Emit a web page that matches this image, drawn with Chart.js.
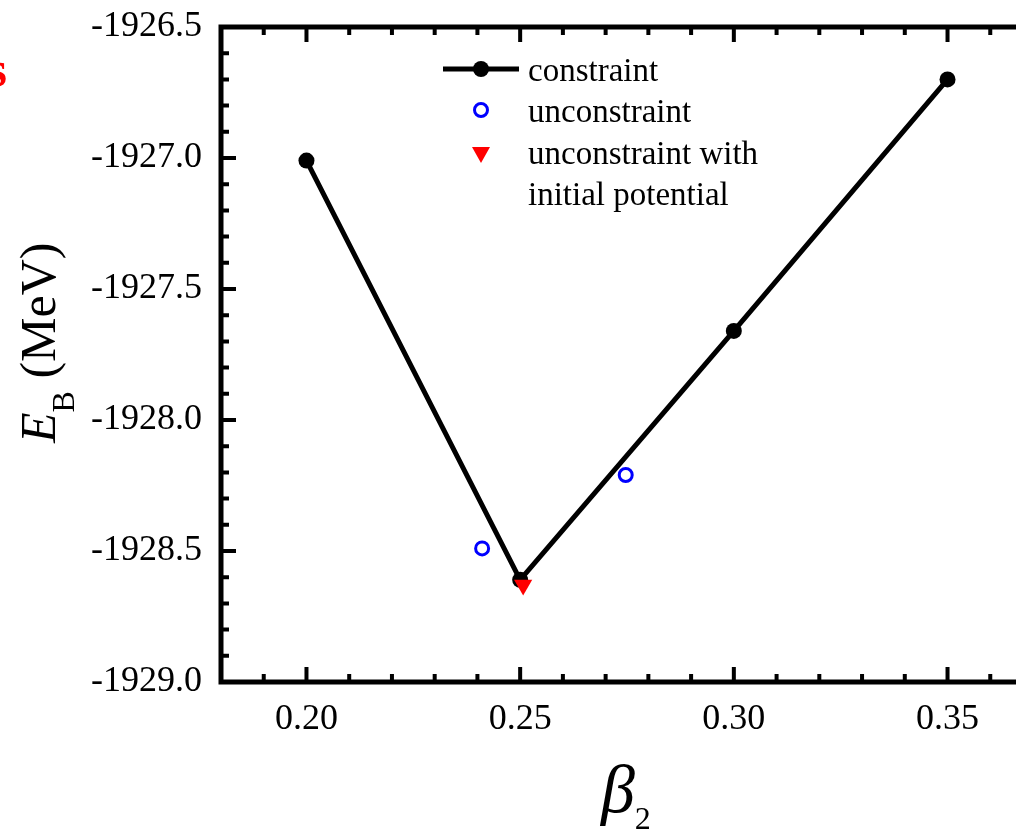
<!DOCTYPE html>
<html>
<head>
<meta charset="utf-8">
<script src="https://cdn.jsdelivr.net/npm/chart.js@4/dist/chart.umd.min.js"></script>
<style>
  html, body { margin: 0; padding: 0; overflow: hidden; background: #fff; width: 1016px; height: 829px; }
  #wrap { position: absolute; left: 0; top: 0; width: 1060px; height: 829px; }
</style>
</head>
<body>
<div id="wrap"><canvas id="c" width="1060" height="829"></canvas></div>
<script>
// ---- data ----
const betaConstraint = [0.20, 0.25, 0.30, 0.35];
const ebConstraint = [-1927.01, -1928.61, -1927.66, -1926.70];
const betaUnconstraint = [0.2411, 0.2747];
const ebUnconstraint = [-1928.49, -1928.21];
const betaInitial = [0.2507];
const ebInitial = [-1928.63];
const xMajorTicks = [0.20, 0.25, 0.30, 0.35];
const yMajorTicks = [-1926.5, -1927.0, -1927.5, -1928.0, -1928.5, -1929.0];
const xRange = [0.18, 0.37];
const yRange = [-1929.0, -1926.5];
const legendLabels = ['constraint', 'unconstraint', 'unconstraint with', 'initial potential'];

const SERIF = "'Liberation Serif', 'Times New Roman', serif";

function pts(xs, ys) { return xs.map((x, i) => ({ x: x, y: ys[i] })); }

const framePlugin = {
  id: 'frame',
  afterDraw(chart) {
    const ctx = chart.ctx;
    const a = chart.chartArea;
    const xs = chart.scales.x, ys = chart.scales.y;
    ctx.save();
    // inward ticks
    ctx.strokeStyle = '#000';
    ctx.lineWidth = 4;
    ctx.lineCap = 'butt';
    const nx = Math.round((xRange[1] - xRange[0]) / 0.01);
    for (let i = 1; i < nx; i++) {
      const v = xRange[0] + i * 0.01;
      const major = xMajorTicks.some(t => Math.abs(t - v) < 1e-6);
      const len = major ? 15 : 8;
      const px = xs.getPixelForValue(v);
      ctx.beginPath();
      ctx.moveTo(px, a.bottom); ctx.lineTo(px, a.bottom - len);
      ctx.moveTo(px, a.top); ctx.lineTo(px, a.top + len);
      ctx.stroke();
    }
    const ny = Math.round((yRange[1] - yRange[0]) / 0.1);
    for (let i = 1; i < ny; i++) {
      const v = yRange[0] + i * 0.1;
      const major = yMajorTicks.some(t => Math.abs(t - v) < 1e-6);
      const len = major ? 15 : 8;
      const py = ys.getPixelForValue(v);
      ctx.beginPath();
      ctx.moveTo(a.left, py); ctx.lineTo(a.left + len, py);
      ctx.moveTo(a.right, py); ctx.lineTo(a.right - len, py);
      ctx.stroke();
    }
    // frame
    ctx.lineWidth = 5;
    ctx.strokeRect(a.left, a.top, a.right - a.left, a.bottom - a.top);

    // legend
    ctx.lineWidth = 5;
    ctx.beginPath(); ctx.moveTo(443, 69); ctx.lineTo(519, 69); ctx.stroke();
    ctx.fillStyle = '#000';
    ctx.beginPath(); ctx.arc(481, 69, 8, 0, Math.PI * 2); ctx.fill();
    ctx.strokeStyle = '#0000ff'; ctx.lineWidth = 3;
    ctx.beginPath(); ctx.arc(481, 110, 6.5, 0, Math.PI * 2); ctx.stroke();
    ctx.fillStyle = '#ff0000';
    ctx.beginPath(); ctx.moveTo(472, 147); ctx.lineTo(490, 147); ctx.lineTo(481, 163); ctx.closePath(); ctx.fill();
    ctx.fillStyle = '#000';
    ctx.font = '33px ' + SERIF;
    ctx.textBaseline = 'alphabetic';
    ctx.textAlign = 'left';
    ctx.fillText(legendLabels[0], 528, 81);
    ctx.fillText(legendLabels[1], 528, 122);
    ctx.fillText(legendLabels[2], 528, 164);
    ctx.fillText(legendLabels[3], 528, 205);

    // x title: beta_2
    ctx.font = 'italic 68px ' + SERIF;
    ctx.fillText('\u03B2', 601, 812);
    const bw = ctx.measureText('\u03B2').width;
    ctx.font = '32px ' + SERIF;
    ctx.fillText('2', 601 + bw, 829);

    // y title: E_B (MeV), rotated
    ctx.save();
    ctx.translate(55, 443);
    ctx.rotate(-Math.PI / 2);
    ctx.font = 'italic 50px ' + SERIF;
    ctx.fillText('E', 0, 0);
    let w = ctx.measureText('E').width;
    ctx.font = '32px ' + SERIF;
    ctx.fillText('B', w, 19);
    w += ctx.measureText('B').width;
    ctx.font = '50px ' + SERIF;
    ctx.fillText(' (MeV)', w, 0);
    ctx.restore();

    // cropped red text at left edge
    ctx.fillStyle = '#ff0000';
    ctx.font = 'bold 50px ' + SERIF;
    ctx.fillText('s', -12.5, 86);
    ctx.restore();
  }
};

new Chart(document.getElementById('c'), {
  type: 'scatter',
  data: {
    datasets: [
      {
        label: 'constraint',
        data: pts(betaConstraint, ebConstraint),
        showLine: true,
        borderColor: '#000',
        backgroundColor: '#000',
        borderWidth: 5,
        pointRadius: 8,
        pointBorderWidth: 0,
        pointBackgroundColor: '#000',
        order: 3
      },
      {
        label: 'unconstraint',
        data: pts(betaUnconstraint, ebUnconstraint),
        showLine: false,
        pointStyle: 'circle',
        pointRadius: 6.5,
        pointBorderWidth: 3,
        pointBorderColor: '#0000ff',
        pointBackgroundColor: 'rgba(0,0,0,0)',
        order: 2
      },
      {
        label: 'unconstraint with initial potential',
        data: pts(betaInitial, ebInitial),
        showLine: false,
        pointStyle: 'triangle',
        rotation: 180,
        pointRotation: 180,
        pointRadius: 10.5,
        pointBorderWidth: 0,
        pointBackgroundColor: '#ff0000',
        pointBorderColor: '#ff0000',
        order: 1
      }
    ]
  },
  options: {
    responsive: false,
    animation: false,
    events: [],
    layout: { padding: { left: 0, top: 27, right: 27, bottom: 0 } },
    plugins: { legend: { display: false }, tooltip: { enabled: false } },
    scales: {
      x: {
        type: 'linear',
        min: xRange[0],
        max: xRange[1],
        grid: { display: false, drawTicks: false },
        border: { display: false },
        afterBuildTicks(scale) { scale.ticks = xMajorTicks.map(v => ({ value: v })); },
        afterFit(scale) {
          scale.height = 147;
          scale.paddingLeft = 0; scale.paddingRight = 0;
          scale.paddingTop = 0; scale.paddingBottom = 0;
        },
        ticks: {
          color: '#000',
          padding: 16,
          maxRotation: 0,
          autoSkip: false,
          font: { family: SERIF, size: 36 },
          callback: v => Number(v).toFixed(2)
        }
      },
      y: {
        type: 'linear',
        min: yRange[0],
        max: yRange[1],
        grid: { display: false, drawTicks: false },
        border: { display: false },
        afterBuildTicks(scale) { scale.ticks = yMajorTicks.map(v => ({ value: v })); },
        afterFit(scale) {
          scale.width = 221;
          scale.paddingLeft = 0; scale.paddingRight = 0;
          scale.paddingTop = 0; scale.paddingBottom = 0;
        },
        ticks: {
          color: '#000',
          padding: 19,
          autoSkip: false,
          font: { family: SERIF, size: 36 },
          callback: v => Number(v).toFixed(1)
        }
      }
    }
  },
  plugins: [framePlugin]
});
</script>
</body>
</html>
